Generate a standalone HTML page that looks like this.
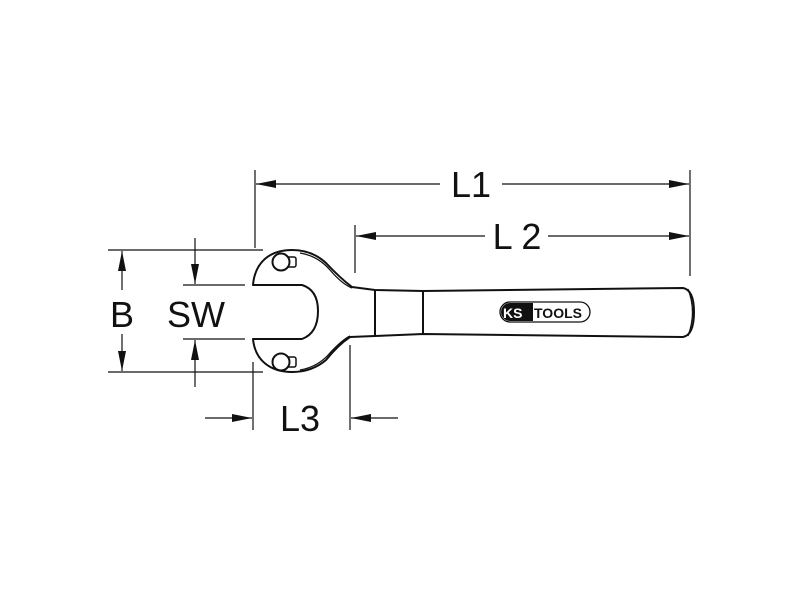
<!DOCTYPE html>
<html><head><meta charset="utf-8"><style>body{margin:0;background:#fff}svg{display:block}</style></head><body>
<svg width="800" height="600" viewBox="0 0 800 600" xmlns="http://www.w3.org/2000/svg">
<defs>
<marker id="a" viewBox="0 0 20 8" refX="20" refY="4" markerWidth="20" markerHeight="8" markerUnits="userSpaceOnUse" orient="auto"><path d="M0,0 L20,4 L0,8 Z" fill="#111"/></marker>
</defs>
<g stroke="#111" stroke-width="1.2" fill="none">
<line x1="255" y1="170" x2="255" y2="248"/>
<line x1="690" y1="170" x2="690" y2="276"/>
<line x1="355" y1="225" x2="355" y2="273"/>
<line x1="108" y1="250" x2="263" y2="250"/>
<line x1="108" y1="372" x2="263" y2="372"/>
<line x1="183" y1="285" x2="245" y2="285"/>
<line x1="183" y1="339" x2="245" y2="339"/>
<line x1="253" y1="362" x2="253" y2="430"/>
<line x1="350" y1="345" x2="350" y2="430"/>
<line x1="440" y1="184" x2="256" y2="184" marker-end="url(#a)"/>
<line x1="502" y1="184" x2="689" y2="184" marker-end="url(#a)"/>
<line x1="485" y1="236" x2="356" y2="236" marker-end="url(#a)"/>
<line x1="548" y1="236" x2="689" y2="236" marker-end="url(#a)"/>
<line x1="122" y1="290" x2="122" y2="251" marker-end="url(#a)"/>
<line x1="122" y1="334" x2="122" y2="371" marker-end="url(#a)"/>
<line x1="195" y1="238" x2="195" y2="284" marker-end="url(#a)"/>
<line x1="195" y1="387" x2="195" y2="340" marker-end="url(#a)"/>
<line x1="205" y1="418" x2="252" y2="418" marker-end="url(#a)"/>
<line x1="398" y1="418" x2="351" y2="418" marker-end="url(#a)"/>
</g>
<g stroke="#111" stroke-width="2" fill="#fff" stroke-linejoin="round">
<path d="M253,285 L302,285 Q318,290 318,311 Q318,333 302,339 L253,339 C255,360 270,372 292,372 Q312,372 326,360 Q338,345 350,337 L375,336 L423,334 L683,337 Q694,335 694,312 Q694,290 683,288 L423,291 L375,290 L352,287 Q340,278 326,263 Q312,250 292,250 C270,250 255,262 253,285 Z"/>
<path d="M300,253 Q318,256 330,270 Q342,284 352,288" fill="none" stroke-width="1.3"/>
<path d="M300,370 Q318,367 330,353 Q342,340 350,336" fill="none" stroke-width="1.3"/>
<line x1="375" y1="290" x2="375" y2="336"/>
<line x1="423" y1="291" x2="423" y2="334"/>
<path d="M688,289 Q697,312 688,336" fill="none" stroke-width="1.3"/>
<rect x="286" y="257" width="10" height="10" rx="2" stroke-width="1.5"/>
<circle cx="281" cy="262" r="8.5"/>
<rect x="286" y="357" width="10" height="10" rx="2" stroke-width="1.5"/>
<circle cx="281" cy="362" r="8.5"/>
</g>
<rect x="500" y="302" width="90" height="20" rx="10" fill="#fff" stroke="#111" stroke-width="1.3"/>
<path d="M510,303 L533,303 L533,321 L510,321 A9,9 0 0 1 510,303 Z" fill="#111"/>
<text x="503" y="318" font-family="Liberation Sans, sans-serif" font-size="14" font-weight="bold" fill="#fff">KS</text>
<text x="534" y="318" font-family="Liberation Sans, sans-serif" font-size="14" font-weight="bold" fill="#111">TOOLS</text>
<g font-family="Liberation Sans, sans-serif" font-size="36" fill="#111" text-anchor="middle">
<text x="471" y="197">L1</text>
<text x="517" y="249">L 2</text>
<text x="122" y="327">B</text>
<text x="196" y="327">SW</text>
<text x="300" y="431">L3</text>
</g>
</svg>
</body></html>
